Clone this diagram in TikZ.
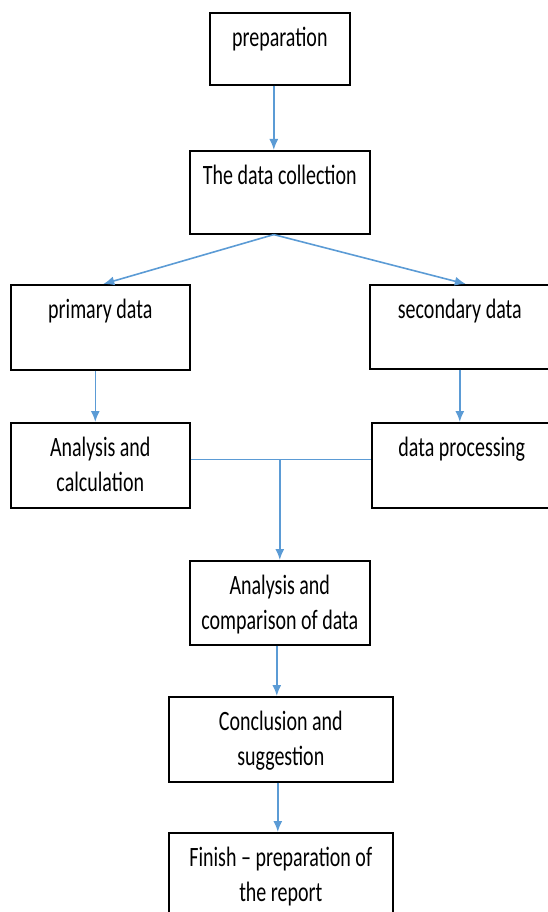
\documentclass[tikz,border=0pt]{standalone}
\usepackage{fontspec}
\setmainfont{Carlito}
\usepackage{graphicx}
\usepackage{tikz}
\usetikzlibrary{arrows.meta}
\usetikzlibrary{positioning}
\definecolor{lineblue}{HTML}{5B9BD5}
\newcommand{\boxtxt}[1]{\scalebox{1}[1.4]{\begin{tabular}[t]{@{}c@{}}#1\end{tabular}}}

\begin{document}
\begin{tikzpicture}[x=1pt,y=-1pt,
  blk/.style={draw,line width=1.6pt,anchor=north west,inner sep=0pt,text height=34pt,font=\fontsize{20}{25}\selectfont},
  arr/.style={lineblue,line width=1.6pt,-{Latex[length=11pt,width=9pt]}}]
  \useasboundingbox (0,0) rectangle (547,912);
  \node[blk,minimum width=140pt,text depth=38pt] (prep) at (209,12) {\boxtxt{preparation}};
  \node[blk,minimum width=180pt,text depth=49pt] (coll) at (189,150) {\boxtxt{The data collection}};
  \node[blk,minimum width=179pt,text depth=51pt] (prim) at (10,284) {\boxtxt{primary data}};
  \node[blk,minimum width=180pt,text depth=50pt] (sec) at (369,284) {\boxtxt{secondary data}};
  \node[blk,minimum width=179pt,text depth=51pt] (anal) at (10,422) {\boxtxt{Analysis and\\calculation}};
  \node[blk,minimum width=180pt,text depth=51pt] (proc) at (371,422) {\boxtxt{data processing}};
  \node[blk,minimum width=180pt,text depth=50pt] (comp) at (189,560) {\boxtxt{Analysis and\\comparison of data}};
  \node[blk,minimum width=224pt,text depth=51pt] (concl) at (168,696) {\boxtxt{Conclusion and\\suggestion}};
  \node[blk,minimum width=224pt,text depth=56pt] (fin) at (168,832) {\boxtxt{Finish -- preparation of\\the report}};
  % connectors
  \draw[arr] ([xshift=-6pt]prep.south) -- ([xshift=-6pt]prep.south |- coll.north);
  \coordinate (fork) at ([xshift=-6pt]coll.south);
  \draw[arr] (fork) -- ([xshift=3pt]prim.north);
  \draw[arr] (fork) -- ([xshift=6pt]sec.north);
  \draw[arr] ([xshift=-5pt]prim.south) -- ([xshift=-5pt]prim.south |- anal.north);
  \draw[arr] (sec.south) -- (sec.south |- proc.north);
  \draw[lineblue,line width=1.6pt] ([yshift=6pt]anal.east) -- ([yshift=6pt]proc.west);
  \coordinate (join) at ([yshift=6pt]anal.east -| comp.north);
  \draw[arr] (join) -- (join |- comp.north);
  \draw[arr] ([xshift=-3pt]comp.south) -- ([xshift=-3pt]comp.south |- concl.north);
  \draw[arr] ([xshift=-3pt]concl.south) -- ([xshift=-3pt]concl.south |- fin.north);
\end{tikzpicture}
\end{document}
